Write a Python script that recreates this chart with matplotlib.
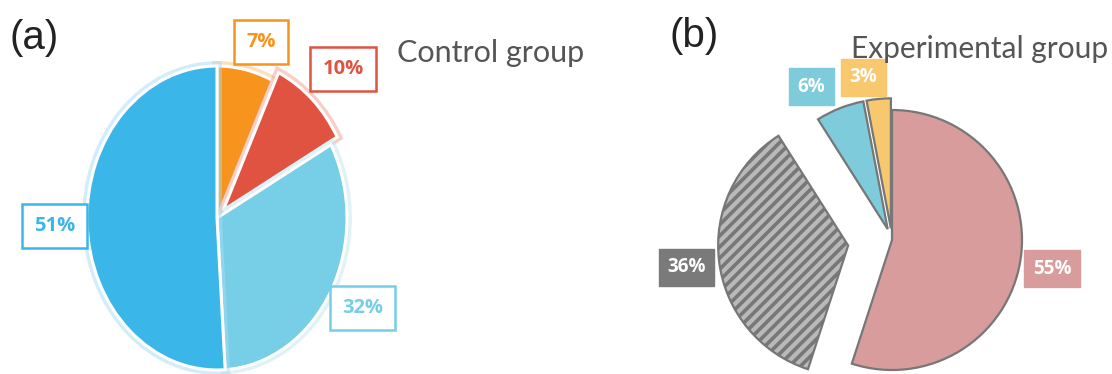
import matplotlib
matplotlib.use("Agg")
import matplotlib.pyplot as plt
import matplotlib.patheffects as pe

# ---------------- data ----------------
ctrl_labels = ["7%", "10%", "32%", "51%"]
ctrl_values = [7, 10, 32, 51]
ctrl_colors = ["#f7941d", "#e05341", "#76cfe6", "#3bb6e9"]
ctrl_explode = [0.0, 0.07, 0.0, 0.0]
ctrl_label_pos = [(0.34, 1.16), (0.97, 0.98), (1.12, -0.59), (-1.25, -0.05)]

exp_labels = ["55%", "36%", "6%", "3%"]
exp_values = [55, 36, 6, 3]
exp_colors = ["#d89c9c", "#b9b9b9", "#7ecbdb", "#f8c86f"]
exp_explode = [0.0, 0.34, 0.09, 0.09]
exp_label_pos = [(1.23, -0.22), (-1.58, -0.21), (-0.62, 1.18), (-0.22, 1.25)]
exp_box_colors = ["#d89c9c", "#7a7a7a", "#7ecbdb", "#f8c86f"]

W, H = 1112, 374
fig = plt.figure(figsize=(W / 100, H / 100), dpi=100)

def px_axes(cx, cy, rx, ry):
    return fig.add_axes([(cx - rx) / W, (H - cy - ry) / H, 2 * rx / W, 2 * ry / H])

label_font = "Open Sans"

# ---------------- panel (a) ----------------
axa = px_axes(217, 218, 130, 152)
wedges, _ = axa.pie(ctrl_values, colors=ctrl_colors, explode=ctrl_explode,
                    startangle=90, counterclock=False,
                    wedgeprops=dict(edgecolor="white", linewidth=2.2))
glow = ["#f9c080", "#f0a090", "#bfe7f3", "#a9dcf3"]
for w, g in zip(wedges, glow):
    w.set_path_effects([pe.Stroke(linewidth=7, foreground=g, alpha=0.5), pe.Normal()])
    w.set_clip_on(False)
axa.set_aspect("auto")
axa.set_xlim(-1, 1)
axa.set_ylim(-1, 1)
axa.axis("off")
for lab, (x, y), c in zip(ctrl_labels, ctrl_label_pos, ctrl_colors):
    axa.text(x, y, lab, ha="center", va="center", fontsize=14.5, fontweight="bold",
             family=label_font, color=c,
             bbox=dict(boxstyle="square,pad=0.6", facecolor="white", edgecolor=c, linewidth=1.8),
             clip_on=False)

# ---------------- panel (b) ----------------
plt.rcParams["hatch.linewidth"] = 2.6
plt.rcParams["hatch.color"] = "#404040"
axb = px_axes(892, 240, 130, 130)
wedges_b, _ = axb.pie(exp_values, colors=exp_colors, explode=exp_explode,
                      startangle=90, counterclock=False,
                      wedgeprops=dict(edgecolor="#777777", linewidth=1.6))
wedges_b[1].set_hatch("///")
for w in wedges_b:
    w.set_clip_on(False)
axb.set_aspect("auto")
axb.set_xlim(-1, 1)
axb.set_ylim(-1, 1)
axb.axis("off")

for i, (lab, (x, y), c) in enumerate(zip(exp_labels, exp_label_pos, exp_box_colors)):
    axb.text(x, y, lab, ha="center", va="center", fontsize=13.5, fontweight="bold",
             family=label_font, color="white",
             bbox=dict(boxstyle="square,pad=0.45", facecolor=c, edgecolor=c,
                       linewidth=1.0, hatch="///" if i == 1 else None),
             clip_on=False, zorder=3)

# ---------------- titles ----------------
fig.text(9 / W, 1 - 38 / H, "(a)", fontsize=29, family="Liberation Sans",
         color="#222222", va="center", ha="left")
fig.text(669 / W, 1 - 36 / H, "(b)", fontsize=29, family="Liberation Sans",
         color="#222222", va="center", ha="left")
fig.text(397 / W, 1 - 62 / H, "Control group", fontsize=22, family="Lato",
         color="#555555", va="baseline", ha="left")
fig.text(851 / W, 1 - 58 / H, "Experimental group", fontsize=21.5, family="Lato",
         color="#555555", va="baseline", ha="left", zorder=5)

fig.savefig("out.png", dpi=100)
